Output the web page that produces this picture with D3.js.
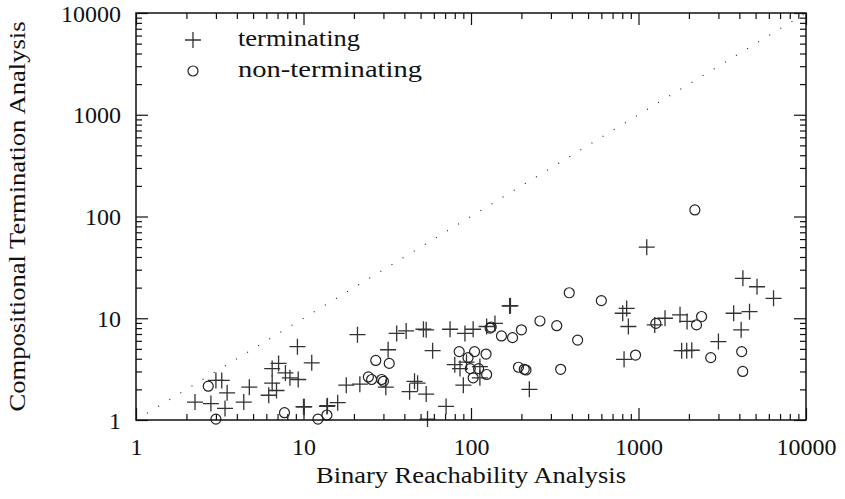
<!DOCTYPE html>
<html>
<head>
<meta charset="utf-8">
<script src="https://cdn.jsdelivr.net/npm/d3@7/dist/d3.min.js"></script>
<style>
    body { margin: 0; background: #fff; }
    svg { display: block; }
    text { font-family: "Liberation Serif", "Times New Roman", serif; fill: #111; }
</style>
</head>
<body>
<svg id="chart" width="845" height="499"></svg>
<script>
const majorTicks = [1, 10, 100, 1000, 10000];
const seriesNames = ["terminating", "non-terminating"];
const xTitle = "Binary Reachability Analysis";
const yTitle = "Compositional Termination Analysis";

// terminating runs (x = binary reachability, y = compositional)
const termX = [2.25, 2.8, 3.4, 3.0, 3.25, 3.5, 4.4, 4.75, 6.2, 6.5, 6.9, 6.5, 7.1, 7.8, 8.3, 9.3, 9.2, 10, 10.1,
    11.2, 13.8, 13.9, 16, 18, 21.7, 21, 32, 31, 36, 41, 52, 54, 75, 92, 59, 46, 48, 43, 54, 90, 80, 86, 71, 55,
    170, 172, 103, 124, 139, 94, 113, 113, 223, 850, 805, 870, 1250, 1440, 1770, 1950, 3700, 4600, 4100, 3000,
    5100, 6400, 4200, 820, 1810, 1940, 2080, 1120];
const termY = [1.5, 1.45, 1.3, 2.45, 2.45, 1.85, 1.5, 2.1, 1.75, 2.3, 1.95, 3.2, 3.6, 2.9, 2.6, 2.5, 5.25, 1.35, 1.35,
    3.65, 1.36, 1.38, 1.48, 2.2, 2.25, 6.9, 4.9, 2.1, 7.1, 7.5, 7.8, 7.7, 7.8, 7.1, 4.8, 2.4, 2.3, 1.9, 1.8, 2.2, 3.5, 3.2, 1.36, 1.02,
    13.2, 13.3, 7.8, 8.3, 8.9, 3.7, 3.35, 2.6, 2.0, 12.5, 11.2, 8.3, 8.6, 10, 10.8, 9.3, 11.2, 11.6, 7.7, 5.9,
    20.4, 15.7, 24.7, 3.95, 4.8, 4.8, 4.85, 50];

// non-terminating runs
const nonTermX = [2.7, 3.0, 7.7, 12.2, 13.8, 27, 32.5, 24.4, 25.5, 29.3, 30, 85, 96, 105, 123, 99, 111, 103, 124,
    130, 132, 152, 177, 200, 258, 325, 386, 600, 433, 192, 208, 213, 343, 1270, 2380, 2220, 960, 2700, 4130, 4190, 2170];
const nonTermY = [2.15, 1.02, 1.18, 1.02, 1.12, 3.85, 3.6, 2.65, 2.5, 2.5, 2.4, 4.7, 4.1, 4.7, 4.45, 3.2, 3.2, 2.6, 2.8,
    8.0, 8.2, 6.7, 6.45, 7.7, 9.4, 8.45, 17.8, 14.9, 6.1, 3.3, 3.15, 3.1, 3.15, 8.9, 10.4, 8.6, 4.35, 4.1, 4.7, 3.0, 116];

const svg = d3.select("#chart");
const margin = {top: 13, right: 39, bottom: 79, left: 136};
const width = +svg.attr("width") - margin.left - margin.right;
const height = +svg.attr("height") - margin.top - margin.bottom;
const g = svg.append("g").attr("transform", "translate(" + margin.left + "," + margin.top + ")");

const x = d3.scaleLog().domain([1, 10000]).range([0, width]);
const y = d3.scaleLog().domain([1, 10000]).range([height, 0]);

const minorTicks = [];
majorTicks.slice(0, -1).forEach(d => {
    for (let k = 2; k < 10; k++) minorTicks.push(d * k);
});

const fmt = d3.format("d");

function styleAxis(sel) {
    sel.select(".domain").remove();
    sel.selectAll(".tick line").attr("stroke", "#111").attr("stroke-width", 1.2);
    sel.selectAll("text").attr("font-size", 24).attr("fill", "#111");
}

// bottom + top
g.append("g").attr("class", "x-axis").attr("transform", "translate(0," + height + ")")
    .call(d3.axisBottom(x).tickValues(majorTicks).tickFormat(fmt).tickSize(-12).tickPadding(18))
    .call(styleAxis);
g.append("g").attr("transform", "translate(0," + height + ")")
    .call(d3.axisBottom(x).tickValues(minorTicks).tickFormat("").tickSize(-6))
    .call(styleAxis);
g.append("g")
    .call(d3.axisTop(x).tickValues(majorTicks).tickFormat("").tickSize(-12))
    .call(styleAxis);
g.append("g")
    .call(d3.axisTop(x).tickValues(minorTicks).tickFormat("").tickSize(-6))
    .call(styleAxis);

// left + right
g.append("g").attr("class", "y-axis")
    .call(d3.axisLeft(y).tickValues(majorTicks).tickFormat(fmt).tickSize(-12).tickPadding(15))
    .call(styleAxis);
g.append("g")
    .call(d3.axisLeft(y).tickValues(minorTicks).tickFormat("").tickSize(-6))
    .call(styleAxis);
g.append("g").attr("transform", "translate(" + width + ",0)")
    .call(d3.axisRight(y).tickValues(majorTicks).tickFormat("").tickSize(-12))
    .call(styleAxis);
g.append("g").attr("transform", "translate(" + width + ",0)")
    .call(d3.axisRight(y).tickValues(minorTicks).tickFormat("").tickSize(-6))
    .call(styleAxis);

g.selectAll(".x-axis .tick text").attr("dy", "0.71em");
g.selectAll(".y-axis .tick text").attr("dy", "0.34em");

// diagonal y = x
g.append("line")
    .attr("x1", x(1)).attr("y1", y(1))
    .attr("x2", x(10000)).attr("y2", y(10000))
    .attr("stroke", "#222")
    .attr("stroke-width", 1.2)
    .attr("stroke-dasharray", "1,12");

const plus = "M-8,0H8M0,-8V8";

g.append("g").selectAll("path")
    .data(termX)
    .enter().append("path")
    .attr("transform", (d, i) => "translate(" + x(d) + "," + y(termY[i]) + ")")
    .attr("d", plus)
    .attr("fill", "none")
    .attr("stroke", "#333")
    .attr("stroke-width", 1.3);

g.append("g").selectAll("circle")
    .data(nonTermX)
    .enter().append("circle")
    .attr("cx", d => x(d))
    .attr("cy", (d, i) => y(nonTermY[i]))
    .attr("r", 5)
    .attr("fill", "none")
    .attr("stroke", "#222")
    .attr("stroke-width", 1.2);

// frame
g.append("rect")
    .attr("width", width).attr("height", height)
    .attr("fill", "none")
    .attr("stroke", "#111")
    .attr("stroke-width", 1.5);

// legend
const legend = g.append("g").attr("transform", "translate(57,27)");
legend.append("path").attr("d", plus)
    .attr("fill", "none").attr("stroke", "#333").attr("stroke-width", 1.3);
legend.append("circle").attr("cy", 31).attr("r", 5)
    .attr("fill", "none").attr("stroke", "#222").attr("stroke-width", 1.2);
legend.selectAll("text")
    .data(seriesNames)
    .enter().append("text")
    .attr("x", 45)
    .attr("y", (d, i) => 6 + i * 31)
    .attr("font-size", 24)
    .attr("textLength", (d, i) => i === 0 ? 122 : 184)
    .attr("lengthAdjust", "spacingAndGlyphs")
    .text(d => d);

// axis titles
svg.append("text")
    .attr("x", margin.left + width / 2)
    .attr("y", 483)
    .attr("text-anchor", "middle")
    .attr("font-size", 23)
    .attr("textLength", 310)
    .attr("lengthAdjust", "spacingAndGlyphs")
    .text(xTitle);

svg.append("text")
    .attr("transform", "translate(25," + (margin.top + height / 2) + ") rotate(-90)")
    .attr("text-anchor", "middle")
    .attr("font-size", 23)
    .attr("textLength", 390)
    .attr("lengthAdjust", "spacingAndGlyphs")
    .text(yTitle);
</script>
</body>
</html>
